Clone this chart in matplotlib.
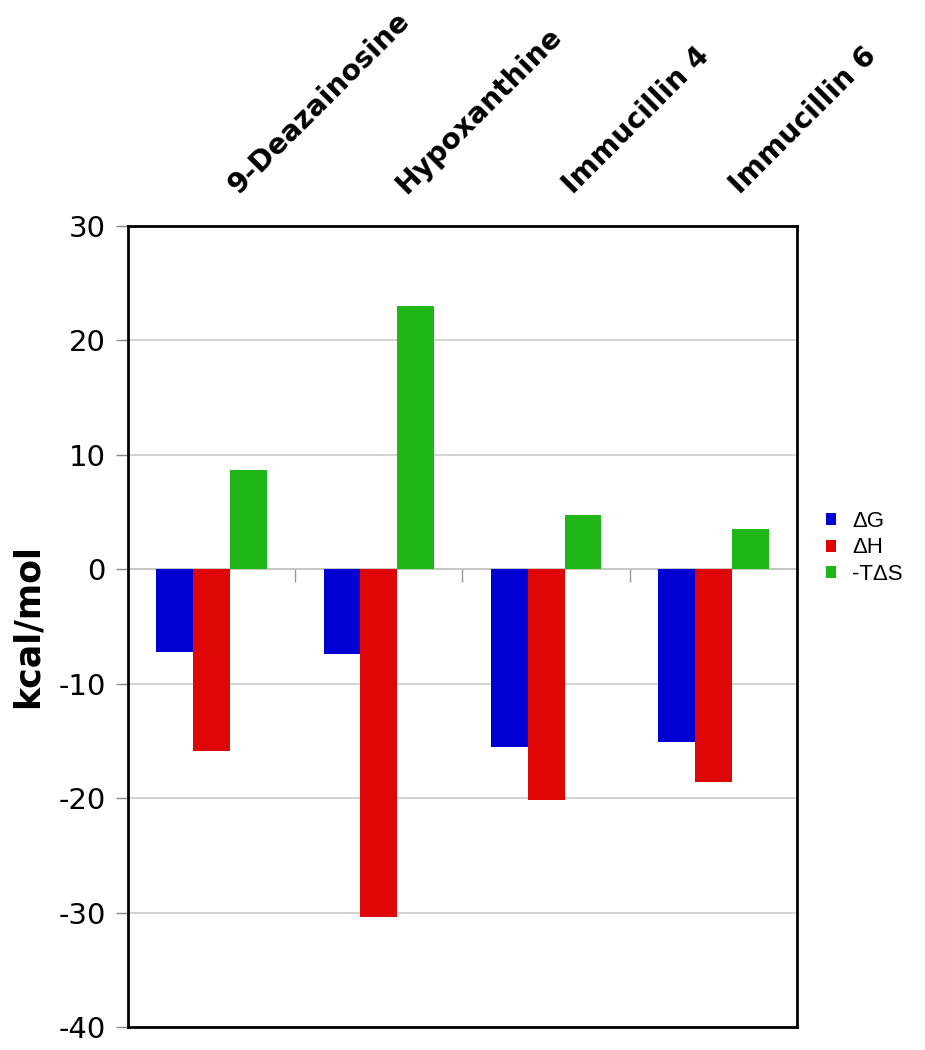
import matplotlib
matplotlib.use("Agg")
import matplotlib.pyplot as plt
import matplotlib.transforms as mtransforms
import numpy as np

categories = ["9-Deazainosine", "Hypoxanthine", "Immucillin 4", "Immucillin 6"]
series_names = ["\u0394G", "\u0394H", "-T\u0394S"]
dG = [-7.2, -7.4, -15.5, -15.1]
dH = [-15.9, -30.4, -20.2, -18.6]
mTdS = [8.7, 23.0, 4.7, 3.5]
yticks = [-40, -30, -20, -10, 0, 10, 20, 30]
colors = ["#0000D2", "#DF0606", "#1FB718"]

fig = plt.figure(figsize=(9.25, 10.5), dpi=100)
ax = fig.add_axes([0.1384, 0.0219, 0.7232, 0.7629])

x = np.arange(len(categories))
w = 0.22
for i, (vals, name, c) in enumerate(zip([dG, dH, mTdS], series_names, colors)):
    ax.bar(x + (i - 1) * w, vals, w, color=c, label=name, zorder=3)

ax.set_xlim(-0.5, len(categories) - 0.5)
ax.set_ylim(-40, 30)
ax.set_yticks(yticks)
ax.set_yticklabels([str(t) for t in yticks], fontsize=21, family="DejaVu Sans")
ax.tick_params(axis="y", direction="out", length=9, width=1, color="#888888", pad=7)
ax.yaxis.grid(True, color="#cccccc", lw=1.2, zorder=0)
ax.set_axisbelow(True)
for s in ax.spines.values():
    s.set_linewidth(2)
    s.set_color("black")

ax.set_ylabel("kcal/mol", fontsize=25, fontweight="bold", labelpad=10)

# category labels on top
ax.set_xticks([])
offset = mtransforms.ScaledTranslation(31 / 100, 27 / 100, fig.dpi_scale_trans)
trans = ax.get_xaxis_transform() + offset
for xi, cat in zip(x, categories):
    ax.text(xi, 1.0, cat, transform=trans, rotation=45, ha="left", va="bottom",
            rotation_mode="anchor", fontsize=20.3, fontweight="bold")

# category axis line at zero
loc = (0 - (-40)) / (30 - (-40))
sec = ax.secondary_xaxis(loc)
for sp in sec.spines.values():
    sp.set_color("#999999")
    sp.set_linewidth(1.2)
sec.set_xticks(x[:-1] + 0.5)
sec.set_xticklabels([])
sec.tick_params(axis="x", direction="in", length=9, width=1, color="#999999")

leg = ax.legend(loc="center left", bbox_to_anchor=(1.013, 0.598), frameon=False,
                prop={"family": "Liberation Sans", "size": 16},
                handlelength=0.45, handleheight=0.45, handletextpad=0.75, labelspacing=0.25)

fig.savefig("out.png", dpi=100)
